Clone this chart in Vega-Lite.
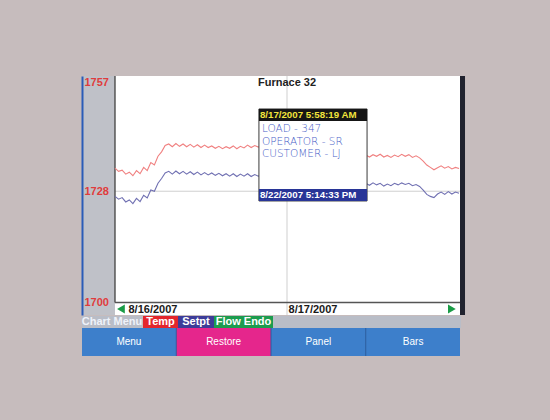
{
  "$schema": "https://vega.github.io/schema/vega-lite/v6.json",
  "background": "#c6bcbd",
  "padding": {"left": 81, "top": 75, "right": 85, "bottom": 65},
  "config": {"font": "Liberation Sans", "view": {"stroke": null}},
  "spacing": 0,
  "resolve": {"scale": {"color": "independent", "x": "independent", "y": "independent"}},
  "vconcat": [
    {
      "width": 378,
      "height": 239,
      "view": {"fill": "white", "stroke": null},
      "layer": [
        {
          "data": {"values": [{}]},
          "mark": {"type": "rule", "color": "#cfcfcf", "strokeWidth": 1},
          "encoding": {"y": {"datum": 1728}}
        },
        {
          "data": {"values": [{}]},
          "mark": {"type": "rule", "color": "#cfcfcf", "strokeWidth": 1},
          "encoding": {"x": {"datum": {"year": 2007, "month": 8, "date": 17, "utc": true}}}
        },
        {
          "data": {"values": [{}]},
          "mark": {"type": "rule", "color": "#555555", "strokeWidth": 1.5},
          "encoding": {"y": {"datum": 1700}}
        },
        {
          "data": {"values": [{}]},
          "mark": {"type": "rect", "color": "#bfc1c8"},
          "encoding": {
            "x": {"datum": {"year": 2007, "month": 8, "date": 15, "hours": 19, "minutes": 24, "utc": true}},
            "x2": {"datum": {"year": 2007, "month": 8, "date": 16, "utc": true}}
          }
        },
        {
          "data": {"values": [{}]},
          "mark": {"type": "rule", "color": "#555555", "strokeWidth": 1.5},
          "encoding": {
            "x": {"datum": {"year": 2007, "month": 8, "date": 16, "utc": true}},
            "y": {"datum": 1700},
            "y2": {"datum": 1757}
          }
        },
        {
          "data": {"values": [
            {"t": "2007-08-16T00:00Z", "Temp": 1733.8, "Setpt": 1726.7},
            {"t": "2007-08-16T00:30Z", "Temp": 1733.0, "Setpt": 1726.0},
            {"t": "2007-08-16T01:00Z", "Temp": 1733.3, "Setpt": 1726.4},
            {"t": "2007-08-16T01:30Z", "Temp": 1732.3, "Setpt": 1725.3},
            {"t": "2007-08-16T02:00Z", "Temp": 1732.8, "Setpt": 1725.8},
            {"t": "2007-08-16T02:30Z", "Temp": 1731.9, "Setpt": 1724.9},
            {"t": "2007-08-16T03:00Z", "Temp": 1733.2, "Setpt": 1726.2},
            {"t": "2007-08-16T03:30Z", "Temp": 1732.4, "Setpt": 1725.4},
            {"t": "2007-08-16T04:00Z", "Temp": 1734.0, "Setpt": 1727.0},
            {"t": "2007-08-16T04:30Z", "Temp": 1733.2, "Setpt": 1726.3},
            {"t": "2007-08-16T05:00Z", "Temp": 1735.2, "Setpt": 1728.3},
            {"t": "2007-08-16T05:30Z", "Temp": 1734.6, "Setpt": 1728.0},
            {"t": "2007-08-16T06:00Z", "Temp": 1736.8, "Setpt": 1730.0},
            {"t": "2007-08-16T06:30Z", "Temp": 1737.9, "Setpt": 1731.2},
            {"t": "2007-08-16T07:00Z", "Temp": 1739.5, "Setpt": 1732.6},
            {"t": "2007-08-16T07:30Z", "Temp": 1739.9, "Setpt": 1733.0},
            {"t": "2007-08-16T08:00Z", "Temp": 1739.2, "Setpt": 1732.3},
            {"t": "2007-08-16T08:30Z", "Temp": 1740.0, "Setpt": 1733.1},
            {"t": "2007-08-16T09:00Z", "Temp": 1739.3, "Setpt": 1732.4},
            {"t": "2007-08-16T09:30Z", "Temp": 1739.9, "Setpt": 1733.0},
            {"t": "2007-08-16T10:00Z", "Temp": 1739.2, "Setpt": 1732.3},
            {"t": "2007-08-16T10:30Z", "Temp": 1739.8, "Setpt": 1732.9},
            {"t": "2007-08-16T11:00Z", "Temp": 1739.1, "Setpt": 1732.2},
            {"t": "2007-08-16T11:30Z", "Temp": 1739.7, "Setpt": 1732.8},
            {"t": "2007-08-16T12:00Z", "Temp": 1739.0, "Setpt": 1732.1},
            {"t": "2007-08-16T12:30Z", "Temp": 1739.6, "Setpt": 1732.7},
            {"t": "2007-08-16T13:00Z", "Temp": 1739.0, "Setpt": 1732.1},
            {"t": "2007-08-16T13:30Z", "Temp": 1739.4, "Setpt": 1732.6},
            {"t": "2007-08-16T14:00Z", "Temp": 1738.8, "Setpt": 1732.0},
            {"t": "2007-08-16T14:30Z", "Temp": 1739.3, "Setpt": 1732.5},
            {"t": "2007-08-16T15:00Z", "Temp": 1738.7, "Setpt": 1731.9},
            {"t": "2007-08-16T15:30Z", "Temp": 1739.2, "Setpt": 1732.4},
            {"t": "2007-08-16T16:00Z", "Temp": 1738.8, "Setpt": 1731.8},
            {"t": "2007-08-16T16:30Z", "Temp": 1739.4, "Setpt": 1732.4},
            {"t": "2007-08-16T17:00Z", "Temp": 1738.7, "Setpt": 1731.7},
            {"t": "2007-08-16T17:30Z", "Temp": 1739.3, "Setpt": 1732.3},
            {"t": "2007-08-16T18:00Z", "Temp": 1738.9, "Setpt": 1731.8},
            {"t": "2007-08-16T18:30Z", "Temp": 1739.6, "Setpt": 1732.4},
            {"t": "2007-08-16T19:00Z", "Temp": 1739.0, "Setpt": 1731.7},
            {"t": "2007-08-16T19:30Z", "Temp": 1739.5, "Setpt": 1732.2},
            {"t": "2007-08-16T20:00Z", "Temp": 1739.1, "Setpt": 1731.8},
            {"t": "2007-08-16T20:30Z", "Temp": 1739.5, "Setpt": 1732.0},
            {"t": "2007-08-16T22:00Z", "Temp": 1739.0, "Setpt": 1731.6},
            {"t": "2007-08-17T00:00Z", "Temp": 1738.5, "Setpt": 1731.2},
            {"t": "2007-08-17T02:00Z", "Temp": 1738.0, "Setpt": 1730.9},
            {"t": "2007-08-17T04:00Z", "Temp": 1737.8, "Setpt": 1730.6},
            {"t": "2007-08-17T06:00Z", "Temp": 1737.5, "Setpt": 1730.4},
            {"t": "2007-08-17T08:00Z", "Temp": 1737.3, "Setpt": 1730.2},
            {"t": "2007-08-17T10:00Z", "Temp": 1737.2, "Setpt": 1730.1},
            {"t": "2007-08-17T11:00Z", "Temp": 1737.1, "Setpt": 1730.0},
            {"t": "2007-08-17T11:30Z", "Temp": 1736.6, "Setpt": 1729.5},
            {"t": "2007-08-17T12:00Z", "Temp": 1737.2, "Setpt": 1730.1},
            {"t": "2007-08-17T12:30Z", "Temp": 1736.8, "Setpt": 1729.6},
            {"t": "2007-08-17T13:00Z", "Temp": 1737.3, "Setpt": 1730.0},
            {"t": "2007-08-17T13:30Z", "Temp": 1736.6, "Setpt": 1729.3},
            {"t": "2007-08-17T14:00Z", "Temp": 1737.0, "Setpt": 1729.8},
            {"t": "2007-08-17T14:30Z", "Temp": 1736.5, "Setpt": 1729.4},
            {"t": "2007-08-17T15:00Z", "Temp": 1737.1, "Setpt": 1730.0},
            {"t": "2007-08-17T15:30Z", "Temp": 1736.7, "Setpt": 1729.6},
            {"t": "2007-08-17T16:00Z", "Temp": 1737.3, "Setpt": 1730.1},
            {"t": "2007-08-17T16:30Z", "Temp": 1736.8, "Setpt": 1729.7},
            {"t": "2007-08-17T17:00Z", "Temp": 1737.2, "Setpt": 1730.0},
            {"t": "2007-08-17T17:30Z", "Temp": 1736.5, "Setpt": 1729.4},
            {"t": "2007-08-17T18:00Z", "Temp": 1736.9, "Setpt": 1729.7},
            {"t": "2007-08-17T18:30Z", "Temp": 1736.4, "Setpt": 1729.2},
            {"t": "2007-08-17T19:00Z", "Temp": 1735.6, "Setpt": 1728.3},
            {"t": "2007-08-17T19:30Z", "Temp": 1734.6, "Setpt": 1727.2},
            {"t": "2007-08-17T20:00Z", "Temp": 1734.0, "Setpt": 1726.7},
            {"t": "2007-08-17T20:30Z", "Temp": 1733.4, "Setpt": 1726.4},
            {"t": "2007-08-17T21:00Z", "Temp": 1733.9, "Setpt": 1727.3},
            {"t": "2007-08-17T21:30Z", "Temp": 1734.4, "Setpt": 1727.8},
            {"t": "2007-08-17T22:00Z", "Temp": 1733.8, "Setpt": 1727.2},
            {"t": "2007-08-17T22:30Z", "Temp": 1734.2, "Setpt": 1727.9},
            {"t": "2007-08-17T23:00Z", "Temp": 1733.6, "Setpt": 1727.3},
            {"t": "2007-08-17T23:30Z", "Temp": 1734.0, "Setpt": 1727.8},
            {"t": "2007-08-18T00:00Z", "Temp": 1733.7, "Setpt": 1727.5}
          ]},
          "transform": [{"fold": ["Temp", "Setpt"], "as": ["series", "value"]}],
          "mark": {"type": "line", "strokeWidth": 1.1},
          "encoding": {
            "x": {
              "field": "t",
              "type": "temporal",
              "scale": {
                "type": "utc",
                "nice": false,
                "domain": [
                  {"year": 2007, "month": 8, "date": 15, "hours": 19, "minutes": 24, "utc": true},
                  {"year": 2007, "month": 8, "date": 18, "hours": 0, "minutes": 8, "utc": true}
                ]
              },
              "axis": {
                "values": [
                  {"year": 2007, "month": 8, "date": 16, "utc": true},
                  {"year": 2007, "month": 8, "date": 17, "utc": true}
                ],
                "labelExpr": "utcFormat(datum.value, '%-m/%-d/%Y')",
                "title": null,
                "ticks": false,
                "domain": false,
                "grid": false,
                "labelAlign": "left",
                "labelBaseline": "middle",
                "labelPadding": -6,
                "labelOffset": {"condition": {"test": "utcdate(datum.value) == 16", "value": 13}, "value": 1},
                "labelFontWeight": "bold",
                "labelFontSize": 11,
                "labelColor": "#1a1a1a",
                "labelFlush": false,
                "labelOverlap": false,
                "labelBound": false,
                "zindex": 1
              }
            },
            "y": {
              "field": "value",
              "type": "quantitative",
              "scale": {"domain": [1696.85, 1757], "nice": false, "zero": false},
              "axis": {
                "values": [1700, 1728, 1757],
                "format": "d",
                "title": null,
                "ticks": false,
                "grid": false,
                "domain": true,
                "domainColor": "#2a5cb8",
                "domainWidth": 2,
                "labelAlign": "left",
                "labelPadding": -2,
                "labelBaseline": {"condition": {"test": "datum.value == 1757", "value": "top"}, "value": "middle"},
                "labelFontWeight": "bold",
                "labelFontSize": 11,
                "labelColor": "#e03c3c",
                "labelFlush": false,
                "labelOverlap": false,
                "zindex": 1
              }
            },
            "color": {
              "field": "series",
              "type": "nominal",
              "scale": {"domain": ["Temp", "Setpt"], "range": ["#f08080", "#7070b2"]},
              "legend": null
            }
          }
        },
        {
          "data": {"values": [{}]},
          "mark": {"type": "rect", "color": "#20222e"},
          "encoding": {
            "x": {"datum": {"year": 2007, "month": 8, "date": 18, "hours": 0, "minutes": 8, "utc": true}},
            "x2": {"datum": {"year": 2007, "month": 8, "date": 18, "hours": 0, "minutes": 50, "utc": true}}
          }
        },
        {
          "data": {"values": [
            {"start": "2007-08-16T20:05Z", "end": "2007-08-17T11:10Z", "created": "8/17/2007 5:58:19 AM", "modified": "8/22/2007 5:14:33 PM", "note": ["LOAD - 347", "OPERATOR - SR", "CUSTOMER - LJ"]}
          ]},
          "layer": [
            {
              "mark": {"type": "rect", "fill": "white", "stroke": "#3a3a3a", "strokeWidth": 1},
              "encoding": {
                "x": {"field": "start", "type": "temporal"},
                "x2": {"field": "end"},
                "y": {"datum": 1748.7},
                "y2": {"datum": 1725.55}
              }
            },
            {
              "mark": {"type": "rect", "fill": "#151515"},
              "encoding": {
                "x": {"field": "start", "type": "temporal"},
                "x2": {"field": "end"},
                "y": {"datum": 1748.7},
                "y2": {"datum": 1745.68}
              }
            },
            {
              "mark": {"type": "rect", "fill": "#283597"},
              "encoding": {
                "x": {"field": "start", "type": "temporal"},
                "x2": {"field": "end"},
                "y": {"datum": 1728.57},
                "y2": {"datum": 1725.55}
              }
            },
            {
              "mark": {"type": "text", "align": "left", "baseline": "middle", "dx": 1, "color": "#f2e43c", "fontWeight": "bold", "fontSize": 9.7},
              "encoding": {
                "x": {"field": "start", "type": "temporal"},
                "y": {"datum": 1747.19},
                "text": {"field": "created"}
              }
            },
            {
              "mark": {"type": "text", "align": "left", "baseline": "middle", "dx": 1, "color": "white", "fontWeight": "bold", "fontSize": 9.7},
              "encoding": {
                "x": {"field": "start", "type": "temporal"},
                "y": {"datum": 1727.06},
                "text": {"field": "modified"}
              }
            },
            {
              "mark": {"type": "text", "align": "left", "baseline": "top", "dx": 3, "color": "#4b5fc8", "font": "DejaVu Sans", "fontWeight": 200, "fontSize": 10.5, "lineHeight": 12.5},
              "encoding": {
                "x": {"field": "start", "type": "temporal"},
                "y": {"datum": 1744.9},
                "text": {"field": "note"}
              }
            }
          ]
        },
        {
          "data": {"values": [{}]},
          "mark": {"type": "point", "shape": "triangle-left", "filled": true, "color": "#1a9c46", "size": 80, "opacity": 1},
          "encoding": {
            "x": {"datum": {"year": 2007, "month": 8, "date": 16, "hours": 0, "minutes": 50, "utc": true}},
            "y": {"datum": 1698.37}
          }
        },
        {
          "data": {"values": [{}]},
          "mark": {"type": "point", "shape": "triangle-right", "filled": true, "color": "#1a9c46", "size": 80, "opacity": 1},
          "encoding": {
            "x": {"datum": {"year": 2007, "month": 8, "date": 17, "hours": 23, "minutes": 0, "utc": true}},
            "y": {"datum": 1698.37}
          }
        },
        {
          "data": {"values": [{}]},
          "mark": {"type": "text", "text": "Furnace 32", "fontWeight": "bold", "fontSize": 11, "color": "#222222", "baseline": "top", "align": "center", "dy": 1},
          "encoding": {
            "x": {"datum": {"year": 2007, "month": 8, "date": 17, "utc": true}},
            "y": {"datum": 1757}
          }
        }
      ]
    },
    {
      "spacing": 0,
      "hconcat": [
        {
          "width": 60, "height": 12,
          "view": {"fill": "#b9bdc7", "stroke": null},
          "data": {"values": [{"label": "Chart Menu"}]},
          "mark": {"type": "text", "color": "#eef2fa", "fontWeight": "bold", "fontSize": 11},
          "encoding": {"text": {"field": "label"}}
        },
        {
          "width": 35, "height": 12,
          "view": {"fill": "#e3262c", "stroke": null},
          "data": {"values": [{"label": "Temp"}]},
          "mark": {"type": "text", "color": "white", "fontWeight": "bold", "fontSize": 11},
          "encoding": {"text": {"field": "label"}}
        },
        {
          "width": 36, "height": 12,
          "view": {"fill": "#3d3c98", "stroke": null},
          "data": {"values": [{"label": "Setpt"}]},
          "mark": {"type": "text", "color": "white", "fontWeight": "bold", "fontSize": 11},
          "encoding": {"text": {"field": "label"}}
        },
        {
          "width": 59, "height": 12,
          "view": {"fill": "#1c9c4e", "stroke": null},
          "data": {"values": [{"label": "Flow Endo"}]},
          "mark": {"type": "text", "color": "white", "fontWeight": "bold", "fontSize": 11},
          "encoding": {"text": {"field": "label"}}
        },
        {
          "width": 188, "height": 12,
          "view": {"fill": "#b9bdc7", "stroke": null},
          "data": {"values": [{"label": ""}]},
          "mark": {"type": "text", "color": "white"},
          "encoding": {"text": {"field": "label"}}
        }
      ]
    },
    {
      "width": 378,
      "height": 28,
      "view": {"fill": "#2c5d9c", "stroke": null},
      "data": {"values": [{"label": "Menu"}, {"label": "Restore"}, {"label": "Panel"}, {"label": "Bars"}]},
      "encoding": {
        "x": {"field": "label", "type": "nominal", "sort": null, "scale": {"paddingInner": 0.01, "paddingOuter": 0}, "axis": null}
      },
      "layer": [
        {
          "mark": {"type": "rect"},
          "encoding": {
            "color": {
              "field": "label",
              "type": "nominal",
              "scale": {"domain": ["Menu", "Restore", "Panel", "Bars"], "range": ["#3d7fcb", "#e5268c", "#3d7fcb", "#3d7fcb"]},
              "legend": null
            }
          }
        },
        {
          "mark": {"type": "text", "color": "white", "fontSize": 10},
          "encoding": {"text": {"field": "label"}}
        }
      ]
    }
  ]
}
